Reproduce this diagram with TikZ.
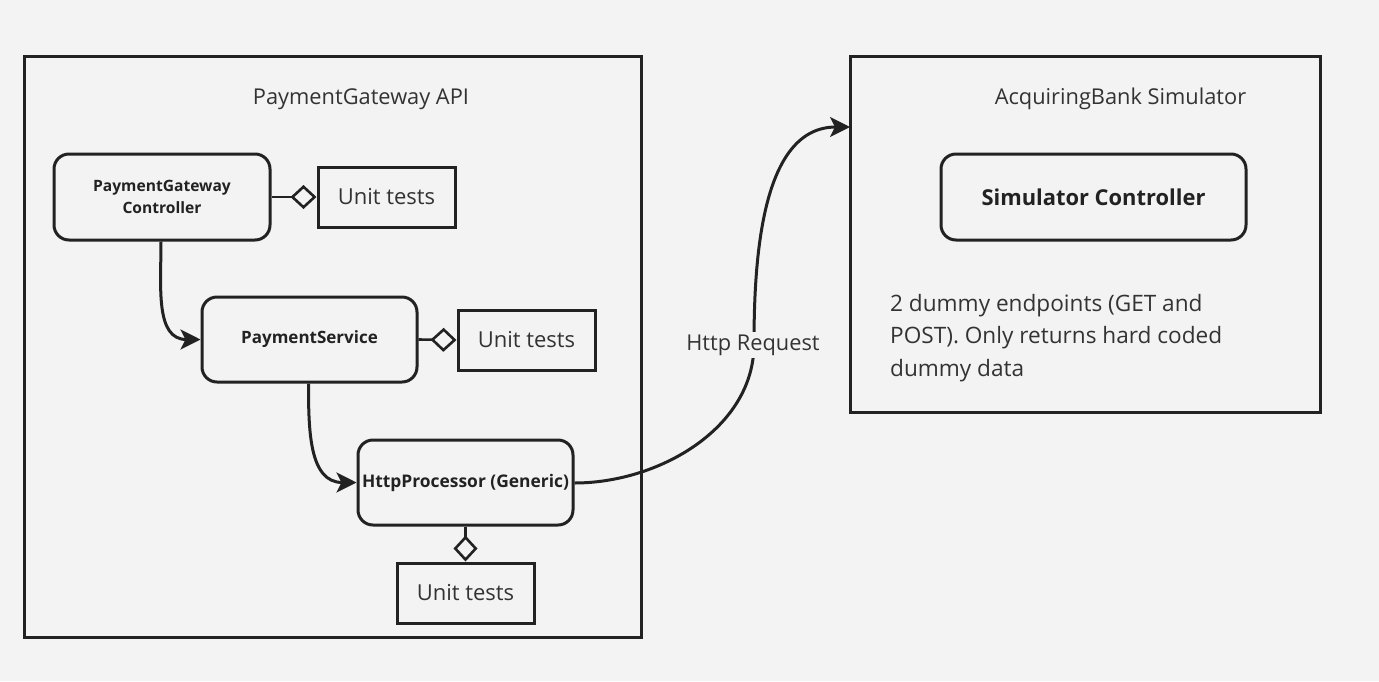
\documentclass[tikz,border=0pt]{standalone}
\usepackage{fontspec}
\setmainfont{Open Sans}
\usetikzlibrary{arrows.meta,positioning}
\definecolor{bg}{HTML}{F3F3F3}
\definecolor{ln}{HTML}{222222}
\definecolor{tx}{HTML}{333333}
\tikzset{
  outerbox/.style={draw=ln,line width=3pt},
  compbox/.style={draw=ln,line width=3pt,rounded corners=15pt,fill=bg,text=ln,font=\bfseries,align=center,inner sep=0pt},
  testbox/.style={draw=ln,line width=3pt,fill=bg,text=tx,font=\fontsize{22}{26}\selectfont,inner sep=0pt,minimum width=137pt,minimum height=60pt},
  flow/.style={draw=ln,line width=3pt,-{Stealth[length=20pt,width=20pt,inset=5pt]}},
  agg/.style={draw=ln,line width=2.6pt,-{Diamond[open,length=26pt,width=24pt]}},
  lbl/.style={text=tx,font=\fontsize{21.8}{26}\selectfont}
}
\begin{document}
\begin{tikzpicture}[x=1pt,y=-1pt]
\fill[bg] (0,0) rectangle (1379,681);
\useasboundingbox (0,0) rectangle (1379,681);
% outer containers
\draw[outerbox] (24,56) rectangle (641,637);
\draw[outerbox] (850,56) rectangle (1320,412);
\node[lbl] (t1) at (361,99) {PaymentGateway API};
\node[lbl] (t2) at (1120.5,99) {AcquiringBank Simulator};
% components
\node[compbox,minimum width=216pt,minimum height=86pt,font=\bfseries\fontsize{15.6}{22}\selectfont] (pgc) at (162,197) {PaymentGateway\\Controller};
\node[compbox,minimum width=215pt,minimum height=85pt,font=\bfseries\fontsize{17}{20}\selectfont] (ps) at (309.5,339.5) {PaymentService};
\node[compbox,minimum width=215pt,minimum height=85pt,font=\bfseries\fontsize{17.4}{20}\selectfont] (hp) at (465.5,482.5) {HttpProcessor (Generic)};
\node[compbox,minimum width=305pt,minimum height=86pt,font=\bfseries\fontsize{21.9}{25}\selectfont] (sc) at (1093.5,197) {Simulator Controller};
% unit tests
\node[testbox] (u1) at (386.5,197) {Unit tests};
\node[testbox] (u2) at (526.5,340) {Unit tests};
\node[testbox] (u3) at (465.5,593) {Unit tests};
% aggregation links
\draw[agg] (pgc.east) -- (u1.west);
\draw[agg] (ps.east) -- (u2.west);
\draw[agg] (hp.south) -- (u3.north);
% flow arrows
\draw[flow] (pgc.south) ++(-1,0) coordinate (c1) to[out=-90,in=180,looseness=1.1] (ps.west);
\draw[flow] (ps.south) ++(-1,0) coordinate (c2) to[out=-90,in=180,looseness=1.1] (hp.west);
\coordinate (mid) at (754,344);
\draw[flow] (hp.east) ++(0,0.5) coordinate (c3) to[out=0,in=-90,looseness=0.95] (mid) to[out=90,in=180,looseness=0.95] (850,127);
\node[lbl,fill=bg,inner sep=3pt] (hr) at (753,345) {Http Request};
% description
\node[text=tx,font=\fontsize{22.6}{32.5}\selectfont,align=left,anchor=north west,inner sep=0pt] (desc) at (890,294) {2 dummy endpoints (GET and\\POST). Only returns hard coded\\dummy data};
\end{tikzpicture}
\end{document}
